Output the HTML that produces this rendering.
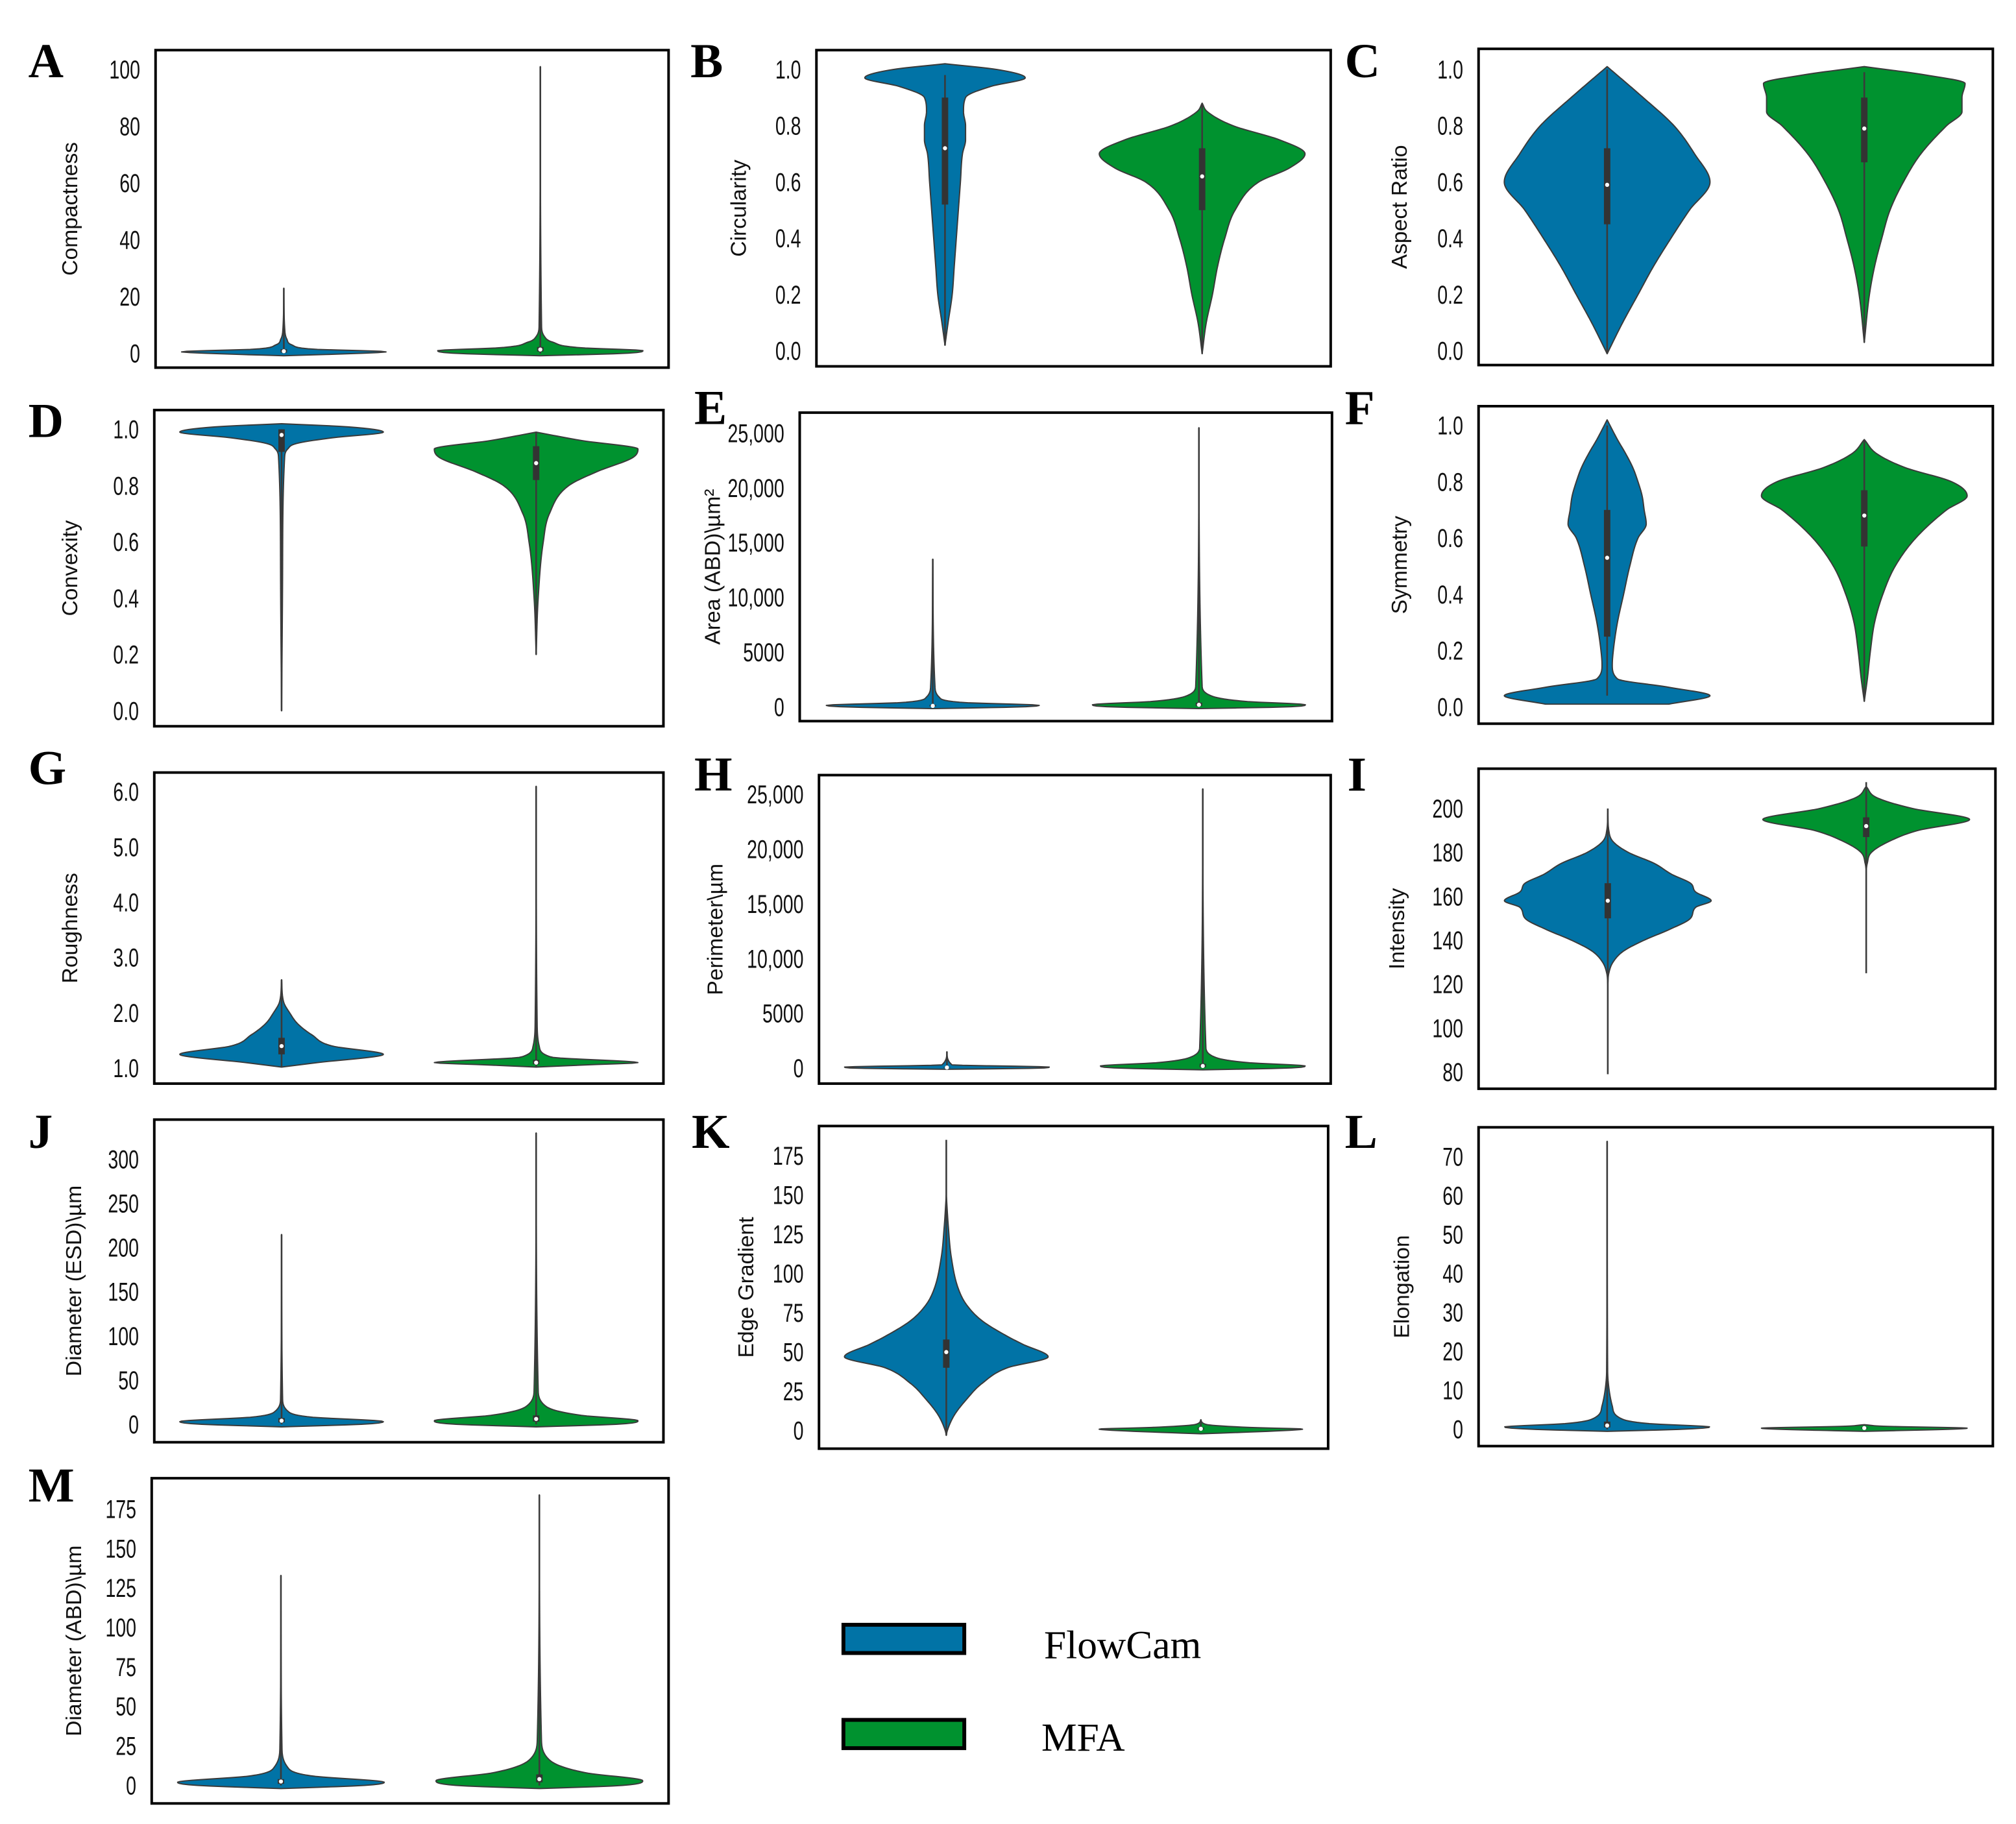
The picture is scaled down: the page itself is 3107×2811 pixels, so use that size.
<!DOCTYPE html>
<html><head><meta charset="utf-8"><style>
html,body{margin:0;padding:0;background:#fff;}
svg{display:block;}
.tick{font-family:"Liberation Sans",sans-serif;font-size:20px;fill:#111;}
.ylab{font-family:"Liberation Sans",sans-serif;font-size:17px;fill:#111;}
.plet{font-family:"Liberation Serif",serif;font-weight:bold;font-size:38px;fill:#000;}
.leg{font-family:"Liberation Serif",serif;font-size:31px;fill:#000;}
</style></head><body>
<svg id="fig" xmlns="http://www.w3.org/2000/svg" width="3107" height="2811" viewBox="0 0 1568 1419" preserveAspectRatio="none">
<rect x="0" y="0" width="1568" height="1419" fill="#fff"/>
<g id="legend">
<rect x="656" y="1264" width="94" height="22" fill="#0173a6" stroke="#000" stroke-width="3"/>
<text class="leg" x="812" y="1290">FlowCam</text>
<rect x="656" y="1338" width="94" height="22" fill="#00922f" stroke="#000" stroke-width="3"/>
<text class="leg" x="810" y="1362">MFA</text>
</g>
</svg>
<script>
// ---- data ----
const A_ticks=[0,20,40,60,80,100];
const A_blue_vals=[-0.8,0,0.6,1.5,3,5,8,23];
const A_blue_dens=[0,0.7,1,0.3,0.08,0.03,0.01,0];
const A_blue_box=[0,0.3,0.8,1.5,23];
const A_green_vals=[-0.8,0,1,2,4,6,10,101];
const A_green_dens=[0,0.8,1,0.4,0.12,0.04,0.012,0];
const A_green_box=[0,0.7,1.4,2.3,101];

const B_ticks=[0,0.2,0.4,0.6,0.8,1.0];
const B_blue_vals=[0.02,0.1,0.2,0.3,0.4,0.5,0.6,0.7,0.75,0.8,0.85,0.9,0.94,0.97,1.0,1.02];
const B_blue_dens=[0,0.03,0.07,0.09,0.11,0.13,0.15,0.17,0.2,0.2,0.18,0.2,0.45,0.78,0.5,0];
const B_blue_box=[0.02,0.52,0.72,0.9,0.98];
const B_green_vals=[-0.01,0.1,0.2,0.3,0.4,0.5,0.6,0.65,0.7,0.75,0.8,0.85,0.88];
const B_green_dens=[0,0.04,0.1,0.15,0.22,0.32,0.55,0.85,1,0.75,0.3,0.05,0];
const B_green_box=[-0.01,0.5,0.62,0.72,0.88];

const C_ticks=[0,0.2,0.4,0.6,0.8,1.0];
const C_blue_vals=[-0.01,0.1,0.2,0.3,0.4,0.5,0.6,0.7,0.8,0.9,1.01];
const C_blue_dens=[0,0.15,0.3,0.45,0.62,0.8,1,0.85,0.65,0.35,0];
const C_blue_box=[-0.01,0.45,0.59,0.72,1.0];
const C_green_vals=[0.03,0.2,0.3,0.4,0.5,0.6,0.7,0.8,0.85,0.9,0.95,0.98,1.01];
const C_green_dens=[0,0.05,0.1,0.17,0.25,0.38,0.55,0.8,0.95,0.95,0.98,0.6,0];
const C_green_box=[0.03,0.67,0.79,0.9,0.99];

const D_ticks=[0,0.2,0.4,0.6,0.8,1.0];
const D_blue_vals=[0,0.5,0.9,0.93,0.95,0.97,0.99,1.01,1.02];
const D_blue_dens=[0,0.01,0.03,0.06,0.15,0.5,1,0.6,0];
const D_blue_box=[0,0.92,0.98,1.0,1.0];
const D_green_vals=[0.2,0.4,0.6,0.7,0.8,0.85,0.9,0.93,0.96,0.99];
const D_green_dens=[0,0.02,0.07,0.13,0.32,0.6,0.95,1,0.45,0];
const D_green_box=[0.2,0.82,0.88,0.94,0.99];

const E_ticks=[0,5000,10000,15000,20000,25000];
const E_tick_labels=["0","5000","10,000","15,000","20,000","25,000"];
const E_blue_vals=[-150,0,150,400,900,2000,13500];
const E_blue_dens=[0,0.8,1,0.3,0.06,0.02,0];
const E_blue_box=[0,50,100,200,13500];
const E_green_vals=[-150,0,200,500,1000,2000,25500];
const E_green_dens=[0,0.8,1,0.45,0.12,0.03,0];
const E_green_box=[0,80,200,400,25500];

const F_ticks=[0,0.2,0.4,0.6,0.8,1.0];
const F_blue_vals=[0.01,0.04,0.07,0.1,0.15,0.2,0.3,0.4,0.5,0.6,0.65,0.7,0.75,0.8,0.85,0.9,0.95,1.02];
const F_blue_dens=[0.6,1,0.6,0.1,0.05,0.06,0.1,0.16,0.22,0.3,0.38,0.36,0.34,0.3,0.25,0.18,0.1,0];
const F_blue_box=[0.04,0.25,0.53,0.7,1.0];
const F_green_vals=[0.02,0.1,0.2,0.3,0.4,0.5,0.6,0.7,0.75,0.8,0.85,0.9,0.95];
const F_green_dens=[0,0.03,0.06,0.1,0.18,0.3,0.5,0.8,1,0.85,0.4,0.12,0];
const F_green_box=[0.02,0.57,0.68,0.77,0.95];

const G_ticks=[1,2,3,4,5,6];
const G_tick_labels=["1.0","2.0","3.0","4.0","5.0","6.0"];
const G_blue_vals=[1.02,1.1,1.25,1.4,1.6,1.8,2.0,2.2,2.6];
const G_blue_dens=[0,0.35,1,0.5,0.3,0.16,0.08,0.02,0];
const G_blue_box=[1.02,1.25,1.4,1.55,2.6];
const G_green_vals=[1.02,1.06,1.1,1.2,1.4,1.8,6.1];
const G_green_dens=[0,0.5,1,0.15,0.03,0.01,0];
const G_green_box=[1.02,1.07,1.1,1.15,6.1];

const H_ticks=[0,5000,10000,15000,20000,25000];
const H_tick_labels=["0","5000","10,000","15,000","20,000","25,000"];
const H_blue_vals=[-100,0,100,300,1500];
const H_blue_dens=[0,0.9,1,0.05,0];
const H_blue_box=[0,30,60,100,1500];
const H_green_vals=[-150,0,200,500,1000,2000,25500];
const H_green_dens=[0,0.8,1,0.45,0.12,0.03,0];
const H_green_box=[0,80,200,400,25500];

const I_ticks=[80,100,120,140,160,180,200];
const I_blue_vals=[120,125,130,135,140,145,150,155,158,162,166,170,175,180,185,190,198];
const I_blue_dens=[0,0.01,0.05,0.15,0.35,0.6,0.8,0.85,1,0.85,0.8,0.62,0.45,0.2,0.05,0.01,0];
const I_blue_box=[79,150,158,166,200];
const I_green_vals=[172,175,180,185,190,195,200,205,210];
const I_green_dens=[0,0.01,0.05,0.22,0.5,1,0.45,0.1,0];
const I_green_box=[125,187,192,196,212];

const J_ticks=[0,50,100,150,200,250,300];
const J_blue_vals=[-3,0,3,8,15,30,215];
const J_blue_dens=[0,0.8,1,0.3,0.06,0.01,0];
const J_blue_box=[0,2,4,7,215];
const J_green_vals=[-3,0,4,10,20,40,330];
const J_green_dens=[0,0.8,1,0.45,0.1,0.02,0];
const J_green_box=[0,3,6,10,330];

const K_ticks=[0,25,50,75,100,125,150,175];
const K_blue_vals=[-3,0,10,20,30,40,47,55,60,70,80,90,110,130,150];
const K_blue_dens=[0,0.01,0.08,0.2,0.35,0.6,1,0.75,0.6,0.35,0.2,0.12,0.05,0.02,0];
const K_blue_box=[-3,40,50,58,185];
const K_green_vals=[-2,0,1,2,4,7];
const K_green_dens=[0,0.8,1,0.5,0.05,0];
const K_green_box=[0,0.6,1.2,2,7];

const L_ticks=[0,10,20,30,40,50,60,70];
const L_blue_vals=[-0.5,0,0.6,1.5,3,6,10,15,74];
const L_blue_dens=[0,0.7,1,0.4,0.12,0.05,0.02,0.005,0];
const L_blue_box=[0,0.5,1,2,74];
const L_green_vals=[-0.5,0,0.3,0.8,1.2];
const L_green_dens=[0,0.8,1,0.2,0];
const L_green_box=[0,0.2,0.35,0.5,1.2];

const M_ticks=[0,25,50,75,100,125,150,175];
const M_blue_vals=[-2,0,2,6,12,25,133];
const M_blue_dens=[0,0.8,1,0.3,0.06,0.01,0];
const M_blue_box=[0,1,2.5,4,133];
const M_green_vals=[-2,0,3,8,16,30,184];
const M_green_dens=[0,0.8,1,0.45,0.1,0.02,0];
const M_green_box=[0,2,4,7,184];

// ---- layout ----
const panels=[
 {id:'a',letter:'A',lx:22,ly:60,box:[121,39,520,286],p0:275,p1:54,ticks:A_ticks,labels:null,ylab:'Compactness',yx:60,bv:A_blue_vals,bd:A_blue_dens,bb:A_blue_box,gv:A_green_vals,gd:A_green_dens,gb:A_green_box},
 {id:'b',letter:'B',lx:537,ly:60,box:[635,39,1035,285],p0:273,p1:54,ticks:B_ticks,labels:null,ylab:'Circularity',yx:580,bv:B_blue_vals,bd:B_blue_dens,bb:B_blue_box,gv:B_green_vals,gd:B_green_dens,gb:B_green_box},
 {id:'c',letter:'C',lx:1046,ly:60,box:[1150,38,1550,284],p0:273,p1:54,ticks:C_ticks,labels:null,ylab:'Aspect Ratio',yx:1094,bv:C_blue_vals,bd:C_blue_dens,bb:C_blue_box,gv:C_green_vals,gd:C_green_dens,gb:C_green_box},
 {id:'d',letter:'D',lx:22,ly:340,box:[120,319,516,565],p0:553,p1:334,ticks:D_ticks,labels:null,ylab:'Convexity',yx:60,bv:D_blue_vals,bd:D_blue_dens,bb:D_blue_box,gv:D_green_vals,gd:D_green_dens,gb:D_green_box},
 {id:'e',letter:'E',lx:540,ly:330,box:[622,321,1036,561],p0:550,p1:337,ticks:E_ticks,labels:E_tick_labels,ylab:'Area (ABD)\\µm²',yx:560,bv:E_blue_vals,bd:E_blue_dens,bb:E_blue_box,gv:E_green_vals,gd:E_green_dens,gb:E_green_box},
 {id:'f',letter:'F',lx:1046,ly:330,box:[1150,316,1550,563],p0:550,p1:331,ticks:F_ticks,labels:null,ylab:'Symmetry',yx:1094,bv:F_blue_vals,bd:F_blue_dens,bb:F_blue_box,gv:F_green_vals,gd:F_green_dens,gb:F_green_box},
 {id:'g',letter:'G',lx:22,ly:610,box:[120,601,516,843],p0:831,p1:616,ticks:G_ticks,labels:G_tick_labels,ylab:'Roughness',yx:60,bv:G_blue_vals,bd:G_blue_dens,bb:G_blue_box,gv:G_green_vals,gd:G_green_dens,gb:G_green_box},
 {id:'h',letter:'H',lx:540,ly:615,box:[637,603,1035,843],p0:831,p1:618,ticks:H_ticks,labels:H_tick_labels,ylab:'Perimeter\\µm',yx:562,bv:H_blue_vals,bd:H_blue_dens,bb:H_blue_box,gv:H_green_vals,gd:H_green_dens,gb:H_green_box},
 {id:'i',letter:'I',lx:1048,ly:615,box:[1150,598,1552,847],p0:834,p1:629,ticks:I_ticks,labels:null,ylab:'Intensity',yx:1092,bv:I_blue_vals,bd:I_blue_dens,bb:I_blue_box,gv:I_green_vals,gd:I_green_dens,gb:I_green_box},
 {id:'j',letter:'J',lx:22,ly:893,box:[120,871,516,1122],p0:1108,p1:902,ticks:J_ticks,labels:null,ylab:'Diameter (ESD)\\µm',yx:63,bv:J_blue_vals,bd:J_blue_dens,bb:J_blue_box,gv:J_green_vals,gd:J_green_dens,gb:J_green_box},
 {id:'k',letter:'K',lx:538,ly:893,box:[637,876,1033,1127],p0:1113,p1:899,ticks:K_ticks,labels:null,ylab:'Edge Gradient',yx:586,bv:K_blue_vals,bd:K_blue_dens,bb:K_blue_box,gv:K_green_vals,gd:K_green_dens,gb:K_green_box},
 {id:'l',letter:'L',lx:1046,ly:893,box:[1150,877,1550,1125],p0:1112,p1:900,ticks:L_ticks,labels:null,ylab:'Elongation',yx:1096,bv:L_blue_vals,bd:L_blue_dens,bb:L_blue_box,gv:L_green_vals,gd:L_green_dens,gb:L_green_box},
 {id:'m',letter:'M',lx:22,ly:1168,box:[118,1150,520,1403],p0:1389,p1:1174,ticks:M_ticks,labels:null,ylab:'Diameter (ABD)\\µm',yx:63,bv:M_blue_vals,bd:M_blue_dens,bb:M_blue_box,gv:M_green_vals,gd:M_green_dens,gb:M_green_box}
];
const NS='http://www.w3.org/2000/svg';
const svg=document.getElementById('fig');
function mk(tag,attrs,parent){const e=document.createElementNS(NS,tag);for(const k in attrs)e.setAttribute(k,attrs[k]);parent.appendChild(e);return e;}
function monotone(xs,ys){
  const n=xs.length,d=[],m=new Array(n);
  for(let i=0;i<n-1;i++)d.push((ys[i+1]-ys[i])/(xs[i+1]-xs[i]));
  m[0]=d[0];m[n-1]=d[n-2];
  for(let i=1;i<n-1;i++){m[i]=(d[i-1]*d[i]<=0)?0:(d[i-1]+d[i])/2;}
  for(let i=0;i<n-1;i++){
    if(d[i]===0){m[i]=0;m[i+1]=0;continue;}
    const a=m[i]/d[i],b=m[i+1]/d[i],s=a*a+b*b;
    if(s>9){const t=3/Math.sqrt(s);m[i]=t*a*d[i];m[i+1]=t*b*d[i];}
  }
  return x=>{
    let i=0;while(i<n-2&&x>xs[i+1])i++;
    const h=xs[i+1]-xs[i],t=Math.min(1,Math.max(0,(x-xs[i])/h));
    const t2=t*t,t3=t2*t;
    return (2*t3-3*t2+1)*ys[i]+(t3-2*t2+t)*h*m[i]+(-2*t3+3*t2)*ys[i+1]+(t3-t2)*h*m[i+1];
  };
}
function drawViolin(g,cx,ys,vals,dens,box,half,color,name){
  const vg=mk('g',{},g);
  
  
  const f=monotone(vals,dens);
  const pa=ys(vals[0]),pb=ys(vals[vals.length-1]);
  const N=Math.max(40,Math.ceil(Math.abs(pa-pb)*2));
  const right=[],left=[];
  for(let k=0;k<=N;k++){
    const py=pa+(pb-pa)*k/N;
    const v=vals[0]+(vals[vals.length-1]-vals[0])*k/N;
    const w=Math.max(0,f(v))*half;
    right.push((cx+w).toFixed(2)+','+py.toFixed(2));
    left.push((cx-w).toFixed(2)+','+py.toFixed(2));
  }
  const d='M'+right.join(' L')+' L'+left.reverse().join(' L')+' Z';
  const p=mk('path',{d:d,fill:color,stroke:'#3a3a3a','stroke-width':1,'stroke-linejoin':'round'},vg);
  
  
  const w=mk('line',{x1:cx,x2:cx,y1:ys(box[0]),y2:ys(box[4]),stroke:'#3a3a3a','stroke-width':1.3},vg);
  
  
  const b=mk('line',{x1:cx,x2:cx,y1:ys(box[1]),y2:ys(box[3]),stroke:'#333','stroke-width':5,'stroke-linecap':'butt'},vg);
  
  
  const m=mk('circle',{cx:cx,cy:ys(box[2]),r:1.6,fill:'#fff'},vg);
  
  
}
panels.forEach(P=>{
  const g=mk('g',{},svg);
  
  
  const [x0,y0,x1,y1]=P.box;
  const t0=P.ticks[0],t1=P.ticks[P.ticks.length-1];
  const ys=v=>P.p0+(v-t0)/(t1-t0)*(P.p1-P.p0);
  const bw=x1-x0,half=0.2*bw;
  drawViolin(g,x0+bw*0.25,ys,P.bv,P.bd,P.bb,half,'#0173a6','violin-flowcam-'+P.id);
  drawViolin(g,x0+bw*0.75,ys,P.gv,P.gd,P.gb,half,'#00922f','violin-mfa-'+P.id);
  const fr=mk('rect',{x:x0,y:y0,width:bw,height:y1-y0,fill:'none',stroke:'#000','stroke-width':2},g);
  
  
  P.ticks.forEach((t,i)=>{
    const tg=mk('g',{transform:'translate('+(x0-12)+','+(ys(t)+7)+') scale(0.72,1)'},g);
    const tx=mk('text',{x:0,y:0,'text-anchor':'end',class:'tick'},tg);
    tx.textContent=P.labels?P.labels[i]:(Number.isInteger(t)&&t1>1.5?String(t):t.toFixed(1));
    
    
  });
  const cy=(y0+y1)/2;
  const yl=mk('text',{x:P.yx,y:cy,'text-anchor':'middle',class:'ylab',transform:'rotate(-90 '+P.yx+' '+cy+')'},g);
  yl.textContent=P.ylab;
  
  
  const lt=mk('text',{x:P.lx,y:P.ly,class:'plet'},g);
  lt.textContent=P.letter;
  
  
});
</script>
</body></html>
